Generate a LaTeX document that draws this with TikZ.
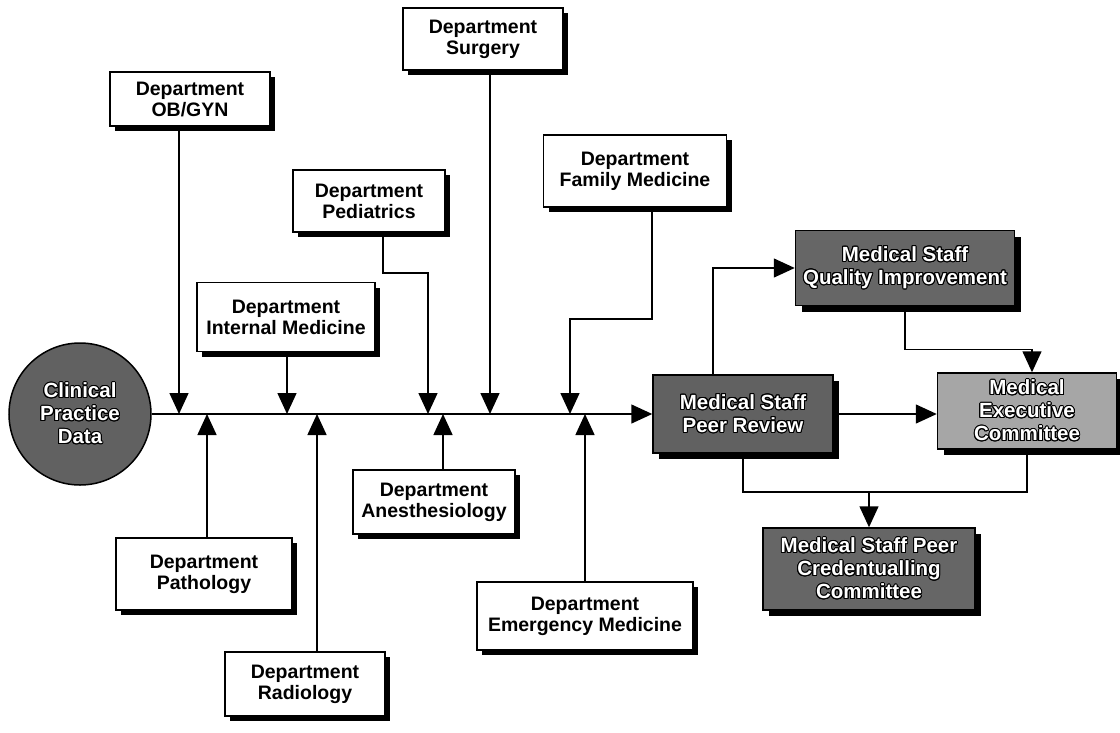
\documentclass[tikz,border=0pt]{standalone}
\usepackage{fontspec}
\setmainfont{Liberation Sans}
\usepackage{contour}
\contourlength{1pt}
\usetikzlibrary{arrows.meta,shadows}
\newcommand{\outl}[1]{\contour{black}{#1}}
\begin{document}
\begin{tikzpicture}[x=1pt,y=-1pt,
  every node/.style={inner sep=0pt, align=center},
  deptbox/.style={draw, line width=1.5pt, fill=white, rectangle,
    font=\fontsize{19.5}{21}\selectfont\bfseries,
    drop shadow={shadow xshift=5pt, shadow yshift=-5pt, fill=black, opacity=1}},
  darkbox/.style={draw, line width=1.5pt, rectangle, text=white,
    font=\fontsize{20.5}{23}\selectfont\bfseries,
    drop shadow={shadow xshift=6pt, shadow yshift=-6pt, fill=black, opacity=1}},
  arr/.style={line width=1.5pt, -{Triangle[length=21pt,width=19pt]}},
  conn/.style={line width=1.5pt}]
\useasboundingbox (0,0) rectangle (1120,732);

% source circle
\node[circle, draw, line width=1.5pt, fill=black!62, minimum size=142pt, text=white,
  font=\fontsize{20.5}{23}\selectfont\bfseries] (clin) at (80,414)
  {\outl{Clinical}\\\outl{Practice}\\\outl{Data}};

% department boxes
\node[deptbox, minimum width=160pt, minimum height=54pt] (obgyn) at (190,99) {Department\\OB/GYN};
\node[deptbox, minimum width=160pt, minimum height=62pt] (surg) at (483,39) {Department\\Surgery};
\node[deptbox, minimum width=152pt, minimum height=62pt] (peds) at (369,201) {Department\\Pediatrics};
\node[deptbox, minimum width=178pt, minimum height=69pt] (intmed) at (286,317) {Department\\Internal Medicine};
\node[deptbox, minimum width=183pt, minimum height=72pt] (fammed) at (635,171) {Department\\Family Medicine};
\node[deptbox, minimum width=176pt, minimum height=72pt] (path) at (204,574) {Department\\Pathology};
\node[deptbox, minimum width=160pt, minimum height=64pt] (rad) at (305,684) {Department\\Radiology};
\node[deptbox, minimum width=162pt, minimum height=64pt] (anes) at (434,502) {Department\\Anesthesiology};
\node[deptbox, minimum width=216pt, minimum height=68pt] (emerg) at (585,616) {Department\\Emergency Medicine};

% committee boxes
\node[darkbox, fill=black!62, minimum width=180pt, minimum height=78pt] (peer) at (743,414)
  {\outl{Medical Staff}\\\outl{Peer Review}};
\node[darkbox, fill=black!35, minimum width=179pt, minimum height=76pt] (exec) at (1027,411)
  {\outl{Medical}\\\outl{Executive}\\\outl{Committee}};
\node[darkbox, fill=black!60, minimum width=219pt, minimum height=75pt] (qi) at (905,268)
  {\outl{Medical Staff}\\\outl{Quality Improvement}};
\node[darkbox, fill=black!60, minimum width=212pt, minimum height=82pt] (cred) at (869,569)
  {\outl{Medical Staff Peer}\\\outl{Credentualling}\\\outl{Committee}};

% points on the main line
\coordinate (d1) at (179,414);
\coordinate (d2) at (287,414);
\coordinate (d3) at (428,414);
\coordinate (d4) at (490,414);
\coordinate (d5) at (570,414);
\coordinate (u1) at (207,414);
\coordinate (u2) at (317,414);
\coordinate (u3) at (443,414);
\coordinate (u4) at (585,414);
\coordinate (j) at (869,492);

% main line
\draw[arr] (clin.east) -- (peer.west);

% inputs from above
\draw[arr] (d1 |- obgyn.south) -- (d1);
\draw[arr] (d2 |- intmed.south) -- (d2);
\draw[arr] ([xshift=14pt]peds.south) -- ++(0,40) -| (d3);
\draw[arr] (d4 |- surg.south) -- (d4);
\draw[arr] ([xshift=17pt]fammed.south) -- ++(0,111) -| (d5);

% inputs from below
\draw[arr] (u1 |- path.north) -- (u1);
\draw[arr] (u2 |- rad.north) -- (u2);
\draw[arr] (u3 |- anes.north) -- (u3);
\draw[arr] (u4 |- emerg.north) -- (u4);

% committee flow
\draw[arr] ([xshift=-30pt]peer.north) |- (qi.west);
\draw[arr] (qi.south) -- ++(0,43) -| ([xshift=5pt]exec.north);
\draw[arr] (peer.east) -- (peer.east -| exec.west);
\draw[conn] (peer.south) |- (j) -| (exec.south);
\draw[arr] (j) -- (cred.north);
\end{tikzpicture}
\end{document}
